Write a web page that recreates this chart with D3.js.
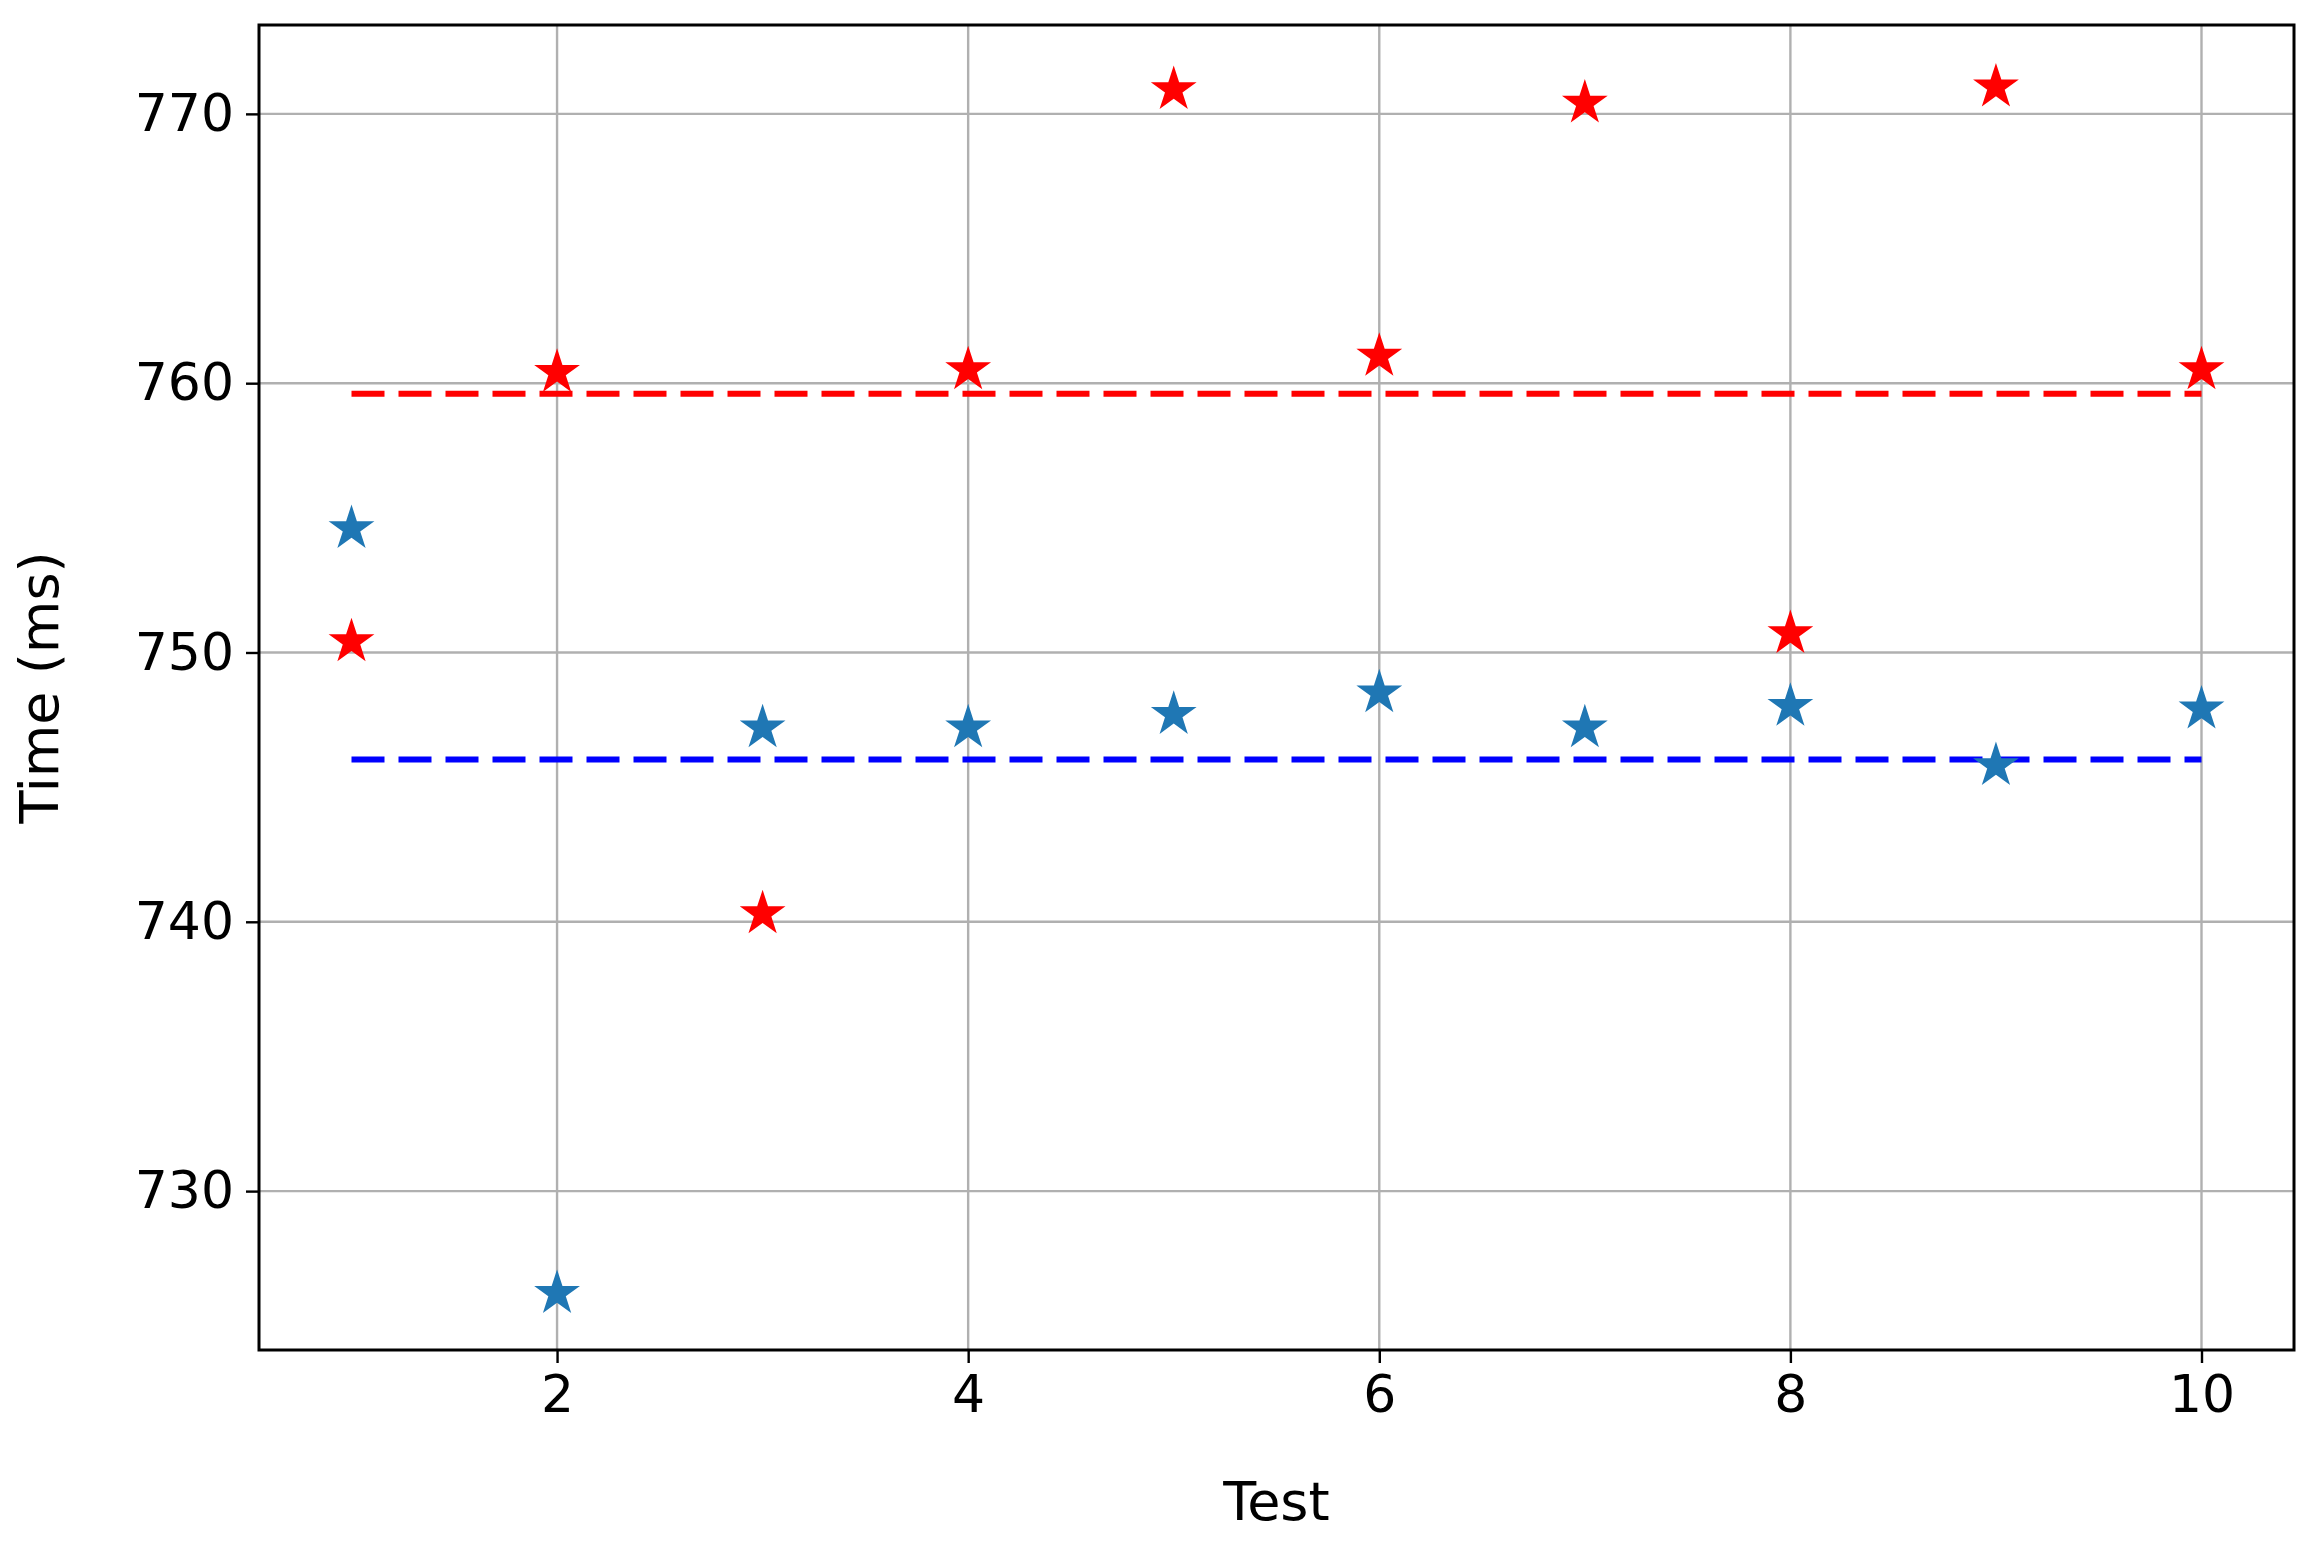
<!DOCTYPE html>
<html>
<head>
<meta charset="utf-8">
<script src="https://cdn.jsdelivr.net/npm/d3@7"></script>
<style>
  body { margin: 0; background: #fff; }
  text { font-family: "DejaVu Sans", sans-serif; }
</style>
</head>
<body>
<svg id="chart" width="2309" height="1545"></svg>
<script>
var tests = [1, 2, 3, 4, 5, 6, 7, 8, 9, 10];
var redTimes = [750.4, 760.4, 740.3, 760.5, 770.9, 761.0, 770.4, 750.7, 771.0, 760.5];
var blueTimes = [754.6, 726.2, 747.2, 747.2, 747.7, 748.5, 747.2, 748.0, 745.8, 747.9];
var xTicks = [2, 4, 6, 8, 10];
var yTicks = [730, 740, 750, 760, 770];

var svg = d3.select("#chart");
var pLeft = 259, pRight = 2294, pTop = 25, pBottom = 1350;

var x = d3.scaleLinear().domain([0.55, 10.45]).range([pLeft, pRight]);
var y = d3.scaleLinear().domain([724.1, 773.3]).range([pBottom, pTop]);

// grid
svg.append("g").selectAll("line").data(xTicks).enter().append("line")
    .attr("x1", d => x(d)).attr("x2", d => x(d)).attr("y1", pTop).attr("y2", pBottom)
    .attr("stroke", "#b0b0b0").attr("stroke-width", 2.4);
svg.append("g").selectAll("line").data(yTicks).enter().append("line")
    .attr("y1", d => y(d)).attr("y2", d => y(d)).attr("x1", pLeft).attr("x2", pRight)
    .attr("stroke", "#b0b0b0").attr("stroke-width", 2.4);

// mean lines
function meanLine(vals, color) {
  var m = d3.mean(vals);
  svg.append("line")
      .attr("x1", x(1)).attr("x2", x(10)).attr("y1", y(m)).attr("y2", y(m))
      .attr("stroke", color).attr("stroke-width", 6)
      .attr("stroke-dasharray", "33,14");
}
meanLine(redTimes, "#ff0000");
meanLine(blueTimes, "#0000ff");

// stars
var star = d3.symbol().type(d3.symbolStar).size(650);
function stars(vals, color) {
  svg.append("g").selectAll("path").data(vals).enter().append("path")
      .attr("d", star)
      .attr("transform", (d, i) => "translate(" + x(tests[i]) + "," + y(d) + ")")
      .attr("fill", color);
}
stars(blueTimes, "#1f77b4");
stars(redTimes, "#ff0000");

// axes
var xAxis = svg.append("g").attr("transform", "translate(0," + pBottom + ")")
    .call(d3.axisBottom(x).tickValues(xTicks).tickSize(13).tickPadding(12));
var yAxis = svg.append("g").attr("transform", "translate(" + pLeft + ",0)")
    .call(d3.axisLeft(y).tickValues(yTicks).tickSize(13).tickPadding(12));
[xAxis, yAxis].forEach(function(a) {
  a.select(".domain").remove();
  a.selectAll("line").attr("stroke", "#000").attr("stroke-width", 2.4);
  a.selectAll("text").attr("font-size", 52).attr("fill", "#000")
      .style("font-family", "DejaVu Sans, sans-serif");
});

svg.append("rect").attr("x", pLeft).attr("y", pTop)
    .attr("width", pRight - pLeft).attr("height", pBottom - pTop)
    .attr("fill", "none").attr("stroke", "#000").attr("stroke-width", 3);

svg.append("text").attr("x", (pLeft + pRight) / 2).attr("y", 1520)
    .attr("text-anchor", "middle").attr("font-size", 54).text("Test");
svg.append("text")
    .attr("transform", "translate(58," + (pTop + pBottom) / 2 + ") rotate(-90)")
    .attr("text-anchor", "middle").attr("font-size", 54).text("Time (ms)");
</script>
</body>
</html>
